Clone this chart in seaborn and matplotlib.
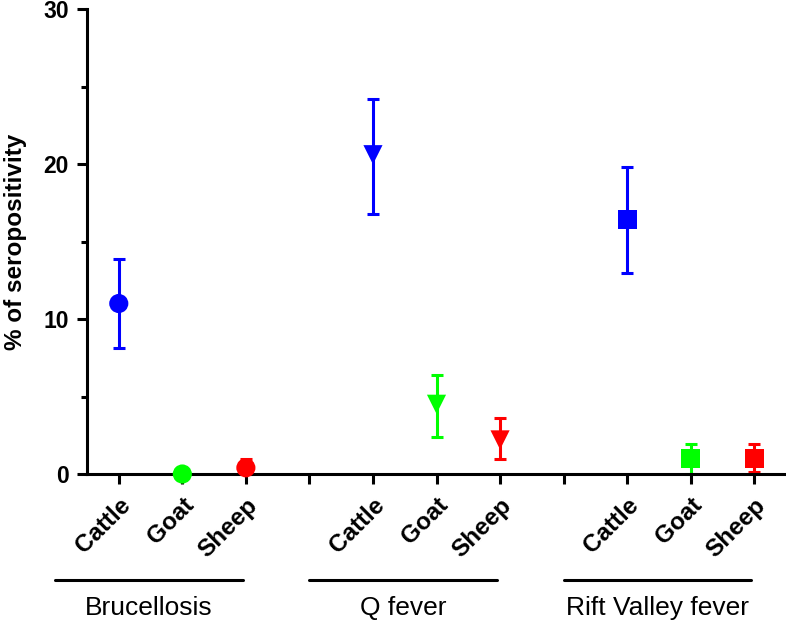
import numpy as np
import pandas as pd
import seaborn as sns
import matplotlib.pyplot as plt
import matplotlib.transforms as mtransforms
from matplotlib.ticker import MultipleLocator

# ---- data ----
diseases = ['Brucellosis', 'Q fever', 'Rift Valley fever']
animals = ['Cattle', 'Goat', 'Sheep']

brucellosis_val = [11.0, 0.0, 0.4]
brucellosis_lo = [8.1, 0.0, 0.0]
brucellosis_hi = [13.9, 0.0, 0.95]

qfever_val = [20.6, 4.5, 2.2]
qfever_lo = [16.8, 2.4, 0.95]
qfever_hi = [24.2, 6.4, 3.6]

rvf_val = [16.4, 1.0, 1.0]
rvf_lo = [13.0, 0.0, 0.1]
rvf_hi = [19.8, 1.95, 1.95]

colors = {'Cattle': '#0000ff', 'Goat': '#00ff00', 'Sheep': '#ff0000'}
markers = {'Brucellosis': 'o', 'Q fever': 'v', 'Rift Valley fever': 's'}

rows = []
for g, (d, v, lo, hi) in enumerate(zip(diseases,
                                       [brucellosis_val, qfever_val, rvf_val],
                                       [brucellosis_lo, qfever_lo, rvf_lo],
                                       [brucellosis_hi, qfever_hi, rvf_hi])):
    for i, a in enumerate(animals):
        rows.append({'disease': d, 'animal': a, 'pos': g * 4 + i,
                     'value': v[i], 'lo': lo[i], 'hi': hi[i]})
df = pd.DataFrame(rows)

sns.set_style('ticks', {'axes.edgecolor': 'black', 'xtick.color': 'black',
                        'ytick.color': 'black', 'text.color': 'black',
                        'axes.labelcolor': 'black'})
plt.rcParams['font.family'] = ['Liberation Sans', 'DejaVu Sans']

fig = plt.figure(figsize=(7.86, 6.26), dpi=100)
ax = fig.add_axes([0.1107, 0.2428, 0.8893, 0.7428])

# error bars first, markers on top
for _, r in df.iterrows():
    ax.errorbar(r['pos'], r['value'],
                yerr=[[r['value'] - r['lo']], [r['hi'] - r['value']]],
                fmt='none', ecolor=colors[r['animal']], elinewidth=2.2,
                capsize=4.5, capthick=2.2, zorder=2, clip_on=False)

sns.scatterplot(data=df, x='pos', y='value', hue='animal', style='disease',
                palette=colors, markers=markers, s=190, linewidth=0,
                legend=False, ax=ax, zorder=3, clip_on=False)

ax.set_xlim(-0.5, 10.5)
ax.set_ylim(0, 30)
ax.yaxis.set_major_locator(MultipleLocator(10))
ax.yaxis.set_minor_locator(MultipleLocator(5))

tick_pos = list(range(11))
tick_lab = []
for p in tick_pos:
    tick_lab.append('' if p % 4 == 3 else animals[p % 4])
ax.set_xticks(tick_pos)
ax.set_xticklabels(tick_lab, rotation=45, ha='right', rotation_mode='anchor',
                   fontsize=17.5, fontweight='bold', color='black')
for lab in ax.get_yticklabels():
    lab.set_fontsize(16.5)
    lab.set_fontweight('bold')
    lab.set_color('black')

ax.tick_params(axis='both', which='major', length=7, width=2.2, pad=6,
               color='black')
ax.tick_params(axis='y', which='minor', length=4, width=2.2, color='black')
ax.tick_params(axis='x', pad=7)

ax.set_xlabel('')
ax.set_ylabel('% of seropositivity', fontsize=17.5, fontweight='bold',
              labelpad=12, color='black')

sns.despine(ax=ax)
for s in ['left', 'bottom']:
    ax.spines[s].set_linewidth(2.2)
    ax.spines[s].set_color('black')

# group lines and names under the categories
trans = mtransforms.blended_transform_factory(ax.transData, fig.transFigure)
for g, d in enumerate(diseases):
    start = g * 4 - 1.0
    end = g * 4 + 1.95
    ax.plot([start, end], [0.073, 0.073], color='black', lw=2.2,
            transform=trans, clip_on=False)
    ax.text((start + end) / 2, 0.029, d, transform=trans, ha='center',
            va='center', fontsize=19, color='black')

fig.savefig('out.png', dpi=100)
